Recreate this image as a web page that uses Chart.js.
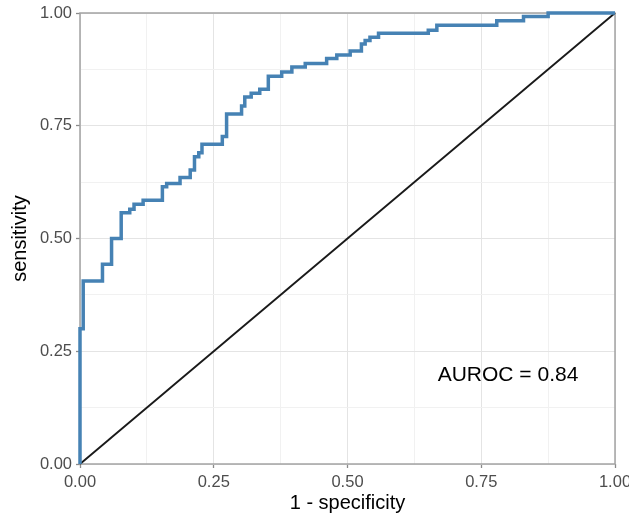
<!DOCTYPE html>
<html>
<head>
<meta charset="utf-8">
<script src="https://cdn.jsdelivr.net/npm/chart.js@4/dist/chart.umd.min.js"></script>
<style>
html,body{margin:0;padding:0;background:#fff;}
canvas{display:block;}
</style>
</head>
<body>
<canvas id="c" width="629" height="518"></canvas>
<script>
// ROC curve: each point is where a vertical jump ends (fpr, new sensitivity)
const jumpFpr = [0, 0, 0.006, 0.042, 0.059, 0.077, 0.093, 0.101, 0.118, 0.154, 0.162, 0.187, 0.206, 0.214, 0.222, 0.228, 0.266, 0.274, 0.302, 0.308, 0.32, 0.336, 0.352, 0.377, 0.396, 0.421, 0.461, 0.48, 0.505, 0.526, 0.533, 0.542, 0.558, 0.651, 0.667, 0.779, 0.829, 0.875, 1];
const jumpTpr = [0, 0.30, 0.406, 0.443, 0.50, 0.557, 0.565, 0.576, 0.585, 0.615, 0.622, 0.635, 0.652, 0.681, 0.69, 0.709, 0.726, 0.776, 0.794, 0.814, 0.822, 0.831, 0.86, 0.869, 0.88, 0.888, 0.899, 0.907, 0.916, 0.931, 0.939, 0.946, 0.955, 0.962, 0.973, 0.983, 0.992, 1, 1];
const diagX = [0, 1];
const diagY = [0, 1];
const tickValues = [0, 0.25, 0.5, 0.75, 1];
const tickLabels = ["0.00", "0.25", "0.50", "0.75", "1.00"];
const xTitle = "1 - specificity";
const yTitle = "sensitivity";
const annText = "AUROC = 0.84";
const annX = 0.8;
const annY = 0.2;

const FONT = "'Liberation Sans', Arial, Helvetica, sans-serif";
const isMajor = v => tickValues.some(t => Math.abs(t - v) < 1e-6);
const labelFor = v => { const i = tickValues.findIndex(t => Math.abs(t - v) < 1e-6); return i >= 0 ? tickLabels[i] : ''; };

const rocData = jumpFpr.map((x, i) => ({x: x, y: jumpTpr[i]}));
const diagData = diagX.map((x, i) => ({x: x, y: diagY[i]}));

const borderPlugin = {
  id: 'panelBorder',
  beforeDatasetsDraw(chart) {
    const {ctx, chartArea: a} = chart;
    ctx.save();
    ctx.strokeStyle = '#a3a3a3';
    ctx.lineWidth = 1.5;
    ctx.strokeRect(a.left, a.top, a.right - a.left, a.bottom - a.top);
    ctx.restore();
  },
  afterDatasetsDraw(chart) {
    const {ctx, scales} = chart;
    ctx.save();
    ctx.fillStyle = '#000';
    ctx.font = "21px " + FONT;
    ctx.textAlign = 'center';
    ctx.textBaseline = 'middle';
    ctx.fillText(annText, scales.x.getPixelForValue(annX), scales.y.getPixelForValue(annY) + 1);
    ctx.restore();
  }
};

const gridCfg = {
  color: c => (c.tick && isMajor(c.tick.value)) ? '#e4e4e4' : '#f1f1f1',
  lineWidth: 1,
  tickColor: c => (c.tick && isMajor(c.tick.value)) ? '#8a8a8a' : 'rgba(0,0,0,0)',
  tickLength: 4,
  tickWidth: 1.3,
  drawTicks: true
};

new Chart(document.getElementById('c'), {
  type: 'scatter',
  data: {
    datasets: [
      {data: diagData, showLine: true, borderColor: '#1a1a1a', borderWidth: 1.9, pointRadius: 0, clip: false, order: 2},
      {data: rocData, showLine: true, stepped: 'before', borderColor: '#4682b4', borderWidth: 3.5, pointRadius: 0, clip: false, order: 1}
    ]
  },
  options: {
    responsive: false,
    animation: false,
    devicePixelRatio: 1,
    layout: {padding: {top: 13, right: 14, left: 0, bottom: 0}},
    plugins: {legend: {display: false}, tooltip: {enabled: false}},
    scales: {
      x: {
        type: 'linear', min: 0, max: 1,
        border: {display: false},
        grid: gridCfg,
        ticks: {stepSize: 0.125, autoSkip: false, maxRotation: 0, padding: 5, color: '#4d4d4d',
                font: {family: FONT, size: 16.5}, callback: v => labelFor(v)},
        title: {display: true, text: xTitle, color: '#000', font: {family: FONT, size: 20, lineHeight: 1.2}, padding: {top: 0, bottom: 3}},
        afterFit: s => { s.height = 54; s.paddingLeft = 0; s.paddingRight = 0; }
      },
      y: {
        type: 'linear', min: 0, max: 1,
        border: {display: false},
        grid: gridCfg,
        ticks: {stepSize: 0.125, autoSkip: false, padding: 4, color: '#4d4d4d',
                font: {family: FONT, size: 16.5}, callback: v => labelFor(v)},
        title: {display: true, text: yTitle, color: '#000', font: {family: FONT, size: 20, lineHeight: 1.2}, padding: {top: 8, bottom: 0}},
        afterFit: s => { s.width = 80; s.paddingTop = 0; s.paddingBottom = 0; }
      }
    }
  },
  plugins: [borderPlugin]
});
</script>
</body>
</html>
